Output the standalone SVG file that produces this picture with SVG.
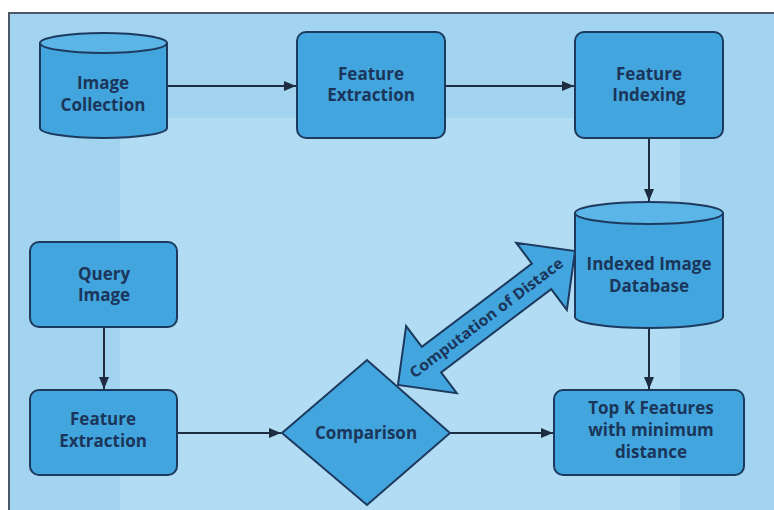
<svg xmlns="http://www.w3.org/2000/svg" width="774" height="510" viewBox="0 0 774 510">
  <style>
    .node { fill: #42a5dd; stroke: #1d3a5e; stroke-width: 2; }
    .top { fill: #5bb5e6; stroke: #1d3a5e; stroke-width: 2; }
    .lbl { font-family: "Open Sans", "Liberation Sans", sans-serif; font-weight: 700; font-size: 17px; fill: #1b365a; text-anchor: middle; }
    .edge { stroke: #1d2c40; stroke-width: 2; fill: none; marker-end: url(#ah); }
  </style>
  <defs>
    <marker id="ah" viewBox="0 0 12 10" refX="12" refY="5" markerWidth="12" markerHeight="10" markerUnits="userSpaceOnUse" orient="auto">
      <path d="M0,0 L12,5 L0,10 Z" fill="#1d2c40"/>
    </marker>
  </defs>

  <rect x="0" y="0" width="774" height="510" fill="#ffffff"/>
  <rect x="9" y="13" width="770" height="505" fill="#a2d4f0" stroke="#4a5868" stroke-width="2"/>
  <rect x="120" y="118" width="560" height="392" fill="#b1dcf4"/>

  <g id="connectors">
    <line class="edge" x1="167" y1="86" x2="296" y2="86"/>
    <line class="edge" x1="445" y1="86" x2="574" y2="86"/>
    <line class="edge" x1="649" y1="138" x2="649" y2="201"/>
    <line class="edge" x1="649" y1="328" x2="649" y2="389"/>
    <line class="edge" x1="104" y1="327" x2="104" y2="389"/>
    <line class="edge" x1="177" y1="433" x2="281" y2="433"/>
    <line class="edge" x1="450" y1="433" x2="553" y2="433"/>
  </g>

  <g id="image-collection">
    <path class="node" d="M40,43 L40,128 A63.5,10 0 0 0 167,128 L167,43"/>
    <ellipse class="top" cx="103.5" cy="43" rx="63.5" ry="10"/>
    <text class="lbl" x="103" y="89">Image</text>
    <text class="lbl" x="103" y="111">Collection</text>
  </g>

  <g id="feature-extraction-top">
    <rect class="node" x="297" y="32" width="148" height="106" rx="9"/>
    <text class="lbl" x="371" y="80">Feature</text>
    <text class="lbl" x="371" y="101">Extraction</text>
  </g>

  <g id="feature-indexing">
    <rect class="node" x="575" y="32" width="148" height="106" rx="9"/>
    <text class="lbl" x="649" y="80">Feature</text>
    <text class="lbl" x="649" y="101">Indexing</text>
  </g>

  <g id="indexed-image-database">
    <path class="node" d="M575,213 L575,317 A74,11 0 0 0 723,317 L723,213"/>
    <ellipse class="top" cx="649" cy="213" rx="74" ry="11"/>
    <text class="lbl" x="649" y="270">Indexed Image</text>
    <text class="lbl" x="649" y="292">Database</text>
  </g>

  <g id="query-image">
    <rect class="node" x="30" y="242" width="147" height="85" rx="9"/>
    <text class="lbl" x="104" y="280">Query</text>
    <text class="lbl" x="104" y="301">Image</text>
  </g>

  <g id="feature-extraction-bottom">
    <rect class="node" x="30" y="390" width="147" height="85" rx="9"/>
    <text class="lbl" x="103" y="425">Feature</text>
    <text class="lbl" x="103" y="447">Extraction</text>
  </g>

  <g id="comparison">
    <polygon class="node" points="282,433 367,360 450,433 367,505"/>
    <text class="lbl" x="366" y="439">Comparison</text>
  </g>

  <g id="top-k-features">
    <rect class="node" x="554" y="390" width="190" height="85" rx="9"/>
    <text class="lbl" x="651" y="414">Top K Features</text>
    <text class="lbl" x="651" y="436">with minimum</text>
    <text class="lbl" x="651" y="458">distance</text>
  </g>

  <g id="computation-of-distance" transform="translate(486.5,318) rotate(-37.1)">
    <path class="node" d="M-111,0 L-69,-42 L-69,-16 L69,-16 L69,-42 L111,0 L69,42 L69,16 L-69,16 L-69,42 Z"/>
    <text class="lbl" x="0" y="5" style="font-size:15px" textLength="188" lengthAdjust="spacingAndGlyphs">Computation of Distace</text>
  </g>
</svg>
